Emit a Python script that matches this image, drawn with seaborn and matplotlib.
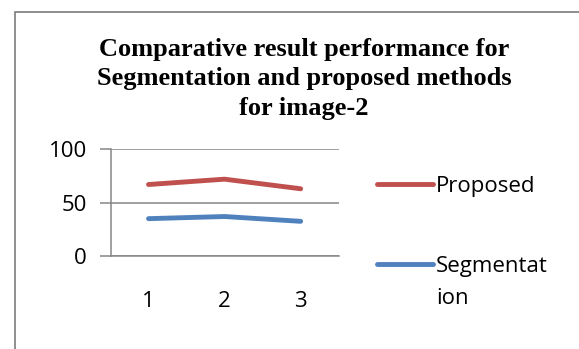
import matplotlib
matplotlib.use("Agg")
import matplotlib.pyplot as plt
from matplotlib.patches import Rectangle
from matplotlib.ticker import FixedLocator
import seaborn as sns
import pandas as pd

# Scores for each image patch
categories = [1, 2, 3]
proposed = [67, 72, 63]
segmentation = [35, 37, 32.5]
series_names = ["Proposed", "Segmentat"]
name_wrap = "ion"
y_ticks = [0, 50, 100]
title = "Comparative result performance for\nSegmentation and proposed methods\nfor image-2"

df = pd.DataFrame({
    "x": categories * 2,
    "value": proposed + segmentation,
    "method": [series_names[0]] * 3 + [series_names[1]] * 3,
})

sns.set_theme(style="white")
plt.rcParams["font.family"] = ["Open Sans", "DejaVu Sans"]
plt.rcParams["text.color"] = "black"

W, H = 579, 349
fig = plt.figure(figsize=(W / 100, H / 100), dpi=100)
fig.patch.set_facecolor("white")

# plot area in pixel terms
x0, x1 = 110.5, 338.7
y_top, y_bot = 149.3, 256.0
ax = fig.add_axes([x0 / W, 1 - y_bot / H, (x1 - x0) / W, (y_bot - y_top) / H])

palette = {series_names[0]: "#C0504D", series_names[1]: "#4F81BD"}
sns.lineplot(data=df, x="x", y="value", hue="method", palette=palette,
             linewidth=3.5, ax=ax, solid_capstyle="round", legend=True)

ax.set_xlim(0.5, 3.5)
ax.set_ylim(0, 100)
ax.set_xlabel("")
ax.set_ylabel("")

fs = 16
grey = "#868686"
ax.set_yticks(y_ticks)
ax.set_xticks(categories)
ax.xaxis.set_minor_locator(FixedLocator([0.5, 1.5, 2.5, 3.5]))
ax.tick_params(axis="x", which="major", length=0, pad=25, labelsize=fs, labelcolor="black")
ax.tick_params(axis="x", which="minor", length=8, width=1.1, color=grey, direction="out")
ax.tick_params(axis="y", which="major", length=8, width=1.1, color=grey, pad=9,
               labelsize=fs, labelcolor="black", left=True)
ax.yaxis.grid(True, color=grey, linewidth=1.1)
ax.set_axisbelow(True)
for side in ["top", "right"]:
    ax.spines[side].set_visible(False)
for side in ["left", "bottom"]:
    ax.spines[side].set_color(grey)
    ax.spines[side].set_linewidth(1.1)

handles, labels = ax.get_legend_handles_labels()
leg = ax.legend(handles, labels, loc="upper left", bbox_to_anchor=(377 / W, 1 - 176 / H),
                bbox_transform=fig.transFigure, frameon=False, fontsize=fs,
                handlelength=2.5, handletextpad=0.15, labelspacing=2.65, borderpad=0,
                borderaxespad=0, labelcolor="black")
for line in leg.get_lines():
    line.set_linewidth(3.5)
    line.set_solid_capstyle("round")

# wrapped remainder of the second legend label
fig.canvas.draw()
seg_text = leg.get_texts()[1]
bb = seg_text.get_window_extent()
fig.text(bb.x0 / W, (bb.y0 - 32 + bb.height / 2) / H, name_wrap, ha="left", va="center",
         fontsize=fs, color="black")

fig.text(304 / W, 1 - 38 / H, title, ha="center", va="top", fontsize=19,
         fontweight="bold", family="Liberation Serif", linespacing=1.36, color="black")

# outer chart frame
fig.add_artist(Rectangle((15 / W, -0.2), 1.2, 1 - 12 / H + 0.2, transform=fig.transFigure,
                         fill=False, edgecolor=grey, linewidth=1.3))

fig.savefig("out.png", dpi=100, facecolor="white")
